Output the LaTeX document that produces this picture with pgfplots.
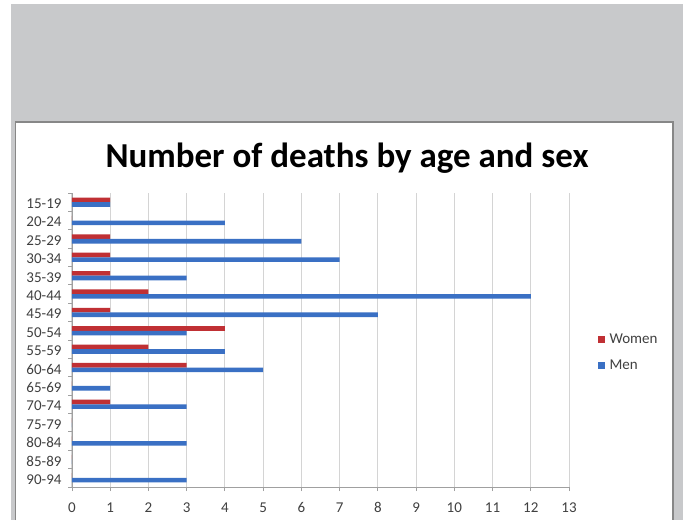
\documentclass[border=0pt]{standalone}
\usepackage{fontspec}
\setmainfont{Carlito}
\usepackage{pgfplots}
\usepackage{pgfplotstable}
\pgfplotsset{compat=1.18}

\definecolor{womenred}{RGB}{192,48,52}
\definecolor{menblue}{RGB}{58,112,196}
\definecolor{bggray}{RGB}{200,201,203}
\definecolor{framegray}{RGB}{135,135,135}
\definecolor{axisgray}{RGB}{160,160,160}
\definecolor{tickgray}{RGB}{64,64,64}
\definecolor{gridgray}{RGB}{212,212,212}

% deaths per 5-year age group
\pgfplotstableread{
idx group women men
0  15-19 1 1
1  20-24 0 4
2  25-29 1 6
3  30-34 1 7
4  35-39 1 3
5  40-44 2 12
6  45-49 1 8
7  50-54 4 3
8  55-59 2 4
9  60-64 3 5
10 65-69 0 1
11 70-74 1 3
12 75-79 0 0
13 80-84 0 3
14 85-89 0 0
15 90-94 0 3
}\deaths

\begin{document}
\begin{tikzpicture}[x=1pt,y=1pt]
\useasboundingbox (0,0) rectangle (683,520);
\fill[white] (0,0) rectangle (683,520);
\fill[bggray] (11,0) rectangle (683,516);
\fill[white] (15.5,0) rectangle (673,398);
\draw[framegray, line width=1.5pt] (15.5,0) -- (15.5,398) -- (673,398) -- (673,0);
\node[font=\fontsize{35}{40}\selectfont\bfseries] at (347,362) {Number of deaths by age and sex};
\begin{axis}[
  at={(72pt,33pt)}, anchor=south west, scale only axis,
  width=497pt, height=294pt,
  xbar, bar width=4.6pt,
  xmin=0, xmax=13, xtick={0,...,13},
  ymin=-0.5, ymax=15.5, y dir=reverse,
  ytick={-0.5,0.5,...,15.5}, yticklabels={},
  extra y ticks={0,...,15},
  extra y tick labels={15-19,20-24,25-29,30-34,35-39,40-44,45-49,50-54,55-59,60-64,65-69,70-74,75-79,80-84,85-89,90-94},
  extra y tick style={major tick length=0pt, yticklabel style={xshift=-7pt, yshift=-1.5pt}},
  xticklabel style={yshift=-8pt},
  axis x line*=bottom, axis y line*=left,
  axis line style={-, draw=axisgray, line width=0.9pt},
  tick align=outside, major tick length=4pt,
  tick style={draw=axisgray, line width=0.9pt},
  xmajorgrids, grid style={draw=gridgray, line width=1pt},
  tick label style={font=\fontsize{15}{17}\selectfont, text=tickgray},
  /pgf/number format/assume math mode=true,
  legend style={at={(1.058,0.458)}, anchor=west, draw=none, fill=none,
    font=\fontsize{15}{17}\selectfont, text=tickgray, row sep=11pt, inner sep=0pt,
    column sep=2.5pt, nodes={inner sep=2pt}},
  legend cell align=left,
  legend image code/.code={\fill[#1] (0pt,-3.5pt) rectangle (7pt,3.5pt);},
]
\addplot[fill=womenred, draw=none, bar shift=2.3pt] table[x=women, y=idx] {\deaths};
\addplot[fill=menblue, draw=none, bar shift=-2.3pt] table[x=men, y=idx] {\deaths};
\legend{Women,Men}
\end{axis}
\end{tikzpicture}
\end{document}
